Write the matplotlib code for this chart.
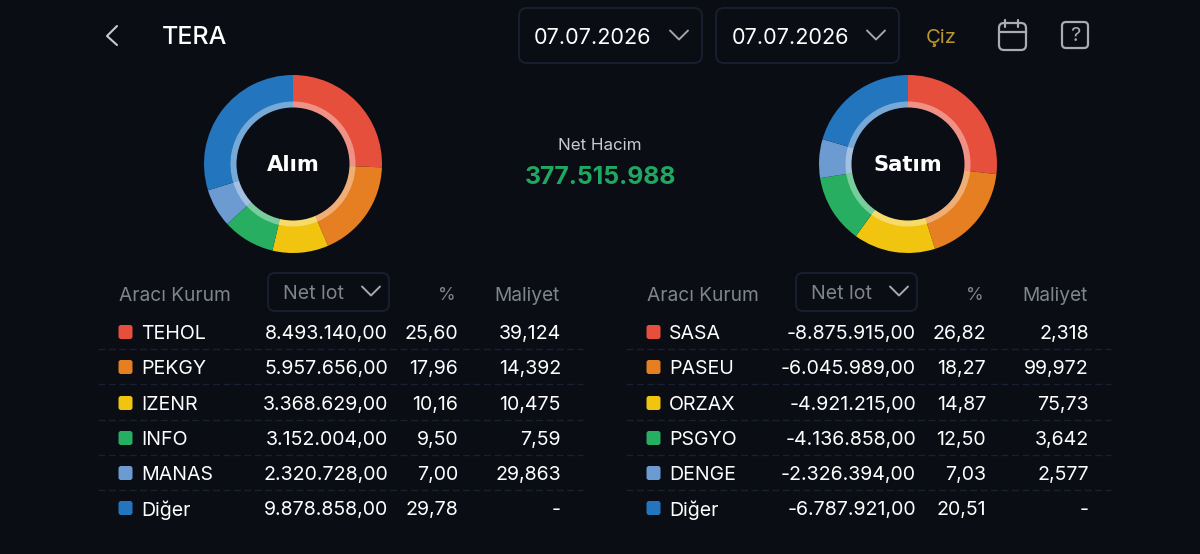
import matplotlib
matplotlib.use('Agg')
import matplotlib.pyplot as plt
from matplotlib.patches import FancyBboxPatch, Circle

W, H = 1200, 554
BG = '#0a0d14'
BORDER = '#1a2031'
MUTED = '#80848c'
plt.rcParams['font.family'] = ['Inter', 'DejaVu Sans']

# veriler
alim_kurum = ['TEHOL', 'PEKGY', 'IZENR', 'INFO', 'MANAS', 'Diğer']
alim_lot = [8493140.00, 5957656.00, 3368629.00, 3152004.00, 2320728.00, 9878858.00]
alim_pct = [25.60, 17.96, 10.16, 9.50, 7.00, 29.78]
alim_maliyet = ['39,124', '14,392', '10,475', '7,59', '29,863', '-']

satim_kurum = ['SASA', 'PASEU', 'ORZAX', 'PSGYO', 'DENGE', 'Diğer']
satim_lot = [-8875915.00, -6045989.00, -4921215.00, -4136858.00, -2326394.00, -6787921.00]
satim_pct = [26.82, 18.27, 14.87, 12.50, 7.03, 20.51]
satim_maliyet = ['2,318', '99,972', '75,73', '3,642', '2,577', '-']

renkler = ['#e74f3d', '#e67e22', '#f1c40f', '#27ae60', '#6c9bd1', '#2375bd']
net_hacim = 377515988
tarih = '07.07.2026'

fig = plt.figure(figsize=(W / 100, H / 100), dpi=100, facecolor=BG)
ax = fig.add_axes([0, 0, 1, 1])


def Y(y):
    # ekran koordinati (yukaridan asagi) -> eksen
    return H - y


def yaz(x, y, s, size=14.1, color='white', ha='left', weight='normal'):
    ax.text(x, Y(y + 1.8), s, fontsize=size, color=color, ha=ha, va='center', weight=weight)


def kutu(x0, y0, x1, y1, r=6, ec=BORDER, lw=1.3):
    ax.add_patch(FancyBboxPatch((x0 + r, Y(y1) + r), x1 - x0 - 2 * r, y1 - y0 - 2 * r,
                                boxstyle='round,pad=%d,rounding_size=%d' % (r, r),
                                fc='none', ec=ec, lw=lw, zorder=3))


def ok(cx, cy, w=9, h=8, color='#a3a6ac', lw=1.4):
    ax.plot([cx - w, cx, cx + w], [Y(cy - h / 2), Y(cy + h / 2), Y(cy - h / 2)],
            color=color, lw=lw, solid_capstyle='round', solid_joinstyle='round')


def tr_sayi(v, dec=2):
    s = f'{v:,.{dec}f}'
    return s.replace(',', '#').replace('.', ',').replace('#', '.')


def halka(cx, cy, degerler, baslik):
    ax.pie(degerler, colors=renkler, startangle=90, counterclock=False, center=(cx, Y(cy)),
           radius=89, wedgeprops=dict(width=35, lw=0))
    # ic taraftaki acik renkli ince halka
    ax.pie(degerler, colors=renkler, startangle=90, counterclock=False, center=(cx, Y(cy)),
           radius=62.5, wedgeprops=dict(width=8, lw=0))
    ax.pie(degerler, colors=['white'], startangle=90, counterclock=False, center=(cx, Y(cy)),
           radius=62.5, wedgeprops=dict(width=8, lw=0, alpha=0.38))
    ax.add_patch(Circle((cx, Y(cy)), 56.5, fc=BG, ec='none', zorder=2))
    ax.text(cx, Y(cy + 1), baslik, fontsize=15.2, color='white', ha='center', va='center',
            weight='bold', zorder=4, family='DejaVu Sans')


def tablo(dx, kurum, lot, pct, maliyet):
    yaz(119 + dx, 294, 'Aracı Kurum', size=13.8, color=MUTED)
    kutu(268 + dx, 273, 389 + dx, 311, r=7)
    yaz(283 + dx, 292, 'Net lot', size=14, color=MUTED)
    ok(371 + dx, 291, w=9, h=9, color='#a8abb1')
    yaz(456 + dx, 294, '%', size=13, color=MUTED, ha='right')
    yaz(560 + dx, 294, 'Maliyet', size=13.8, color=MUTED, ha='right')
    satirlar = [332, 367, 403, 438, 473, 508]
    for i, y in enumerate(satirlar):
        ax.add_patch(FancyBboxPatch((120 + dx, Y(y + 5.5)), 11, 11,
                                    boxstyle='round,pad=1.5,rounding_size=2.5',
                                    fc=renkler[i], ec='none'))
        yaz(141 + dx, y + 0.5, kurum[i])
        yaz(388 + dx, y + 0.5, tr_sayi(lot[i]), ha='right')
        yaz(458 + dx, y + 0.5, tr_sayi(pct[i]), ha='right')
        yaz(561 + dx, y + 0.5, maliyet[i], ha='right')
        if i < 5:
            sy = y + 16.5
            ax.plot([98 + dx, 583 + dx], [Y(sy), Y(sy)], color=BORDER, lw=1,
                    dashes=(5, 2.5))


# ust bar
ax.plot([117, 107, 117], [Y(26), Y(36), Y(45)], color='#c8cacd', lw=1.5,
        solid_capstyle='round', solid_joinstyle='round')
yaz(162, 36, 'TERA', size=18, weight='medium')
kutu(519, 8, 702, 63, r=8)
kutu(716, 8, 899, 63, r=8)
yaz(534, 36, tarih, size=15.6)
yaz(732, 36, tarih, size=15.6)
ok(679, 35, w=9, h=9)
ok(876, 35, w=9, h=9)
yaz(926, 36, 'Çiz', size=14.5, color='#b8972f')

# takvim ve yardim ikonlari
IKON = '#a9acb3'
kutu(999, 23, 1026, 50, r=5, ec=IKON, lw=1.6)
ax.plot([999.5, 1025.5], [Y(32), Y(32)], color=IKON, lw=1.6)
for ix in (1005, 1018):
    ax.plot([ix, ix], [Y(20), Y(27)], color=IKON, lw=1.6, solid_capstyle='round')
kutu(1062, 22, 1088, 48, r=4, ec=IKON, lw=1.6)
ax.text(1075, Y(36), '?', fontsize=14.5, color=IKON, ha='center', va='center')

halka(293, 164, alim_pct, 'Alım')
halka(908, 164, satim_pct, 'Satım')

ax.text(600, Y(146), 'Net Hacim', fontsize=12.2, color='#c9cbce', ha='center', va='center')
ax.text(600, Y(178), tr_sayi(net_hacim, 0), fontsize=17.8, color='#1fa862', ha='center',
        va='center', weight='bold')

tablo(0, alim_kurum, alim_lot, alim_pct, alim_maliyet)
tablo(528, satim_kurum, satim_lot, satim_pct, satim_maliyet)

ax.set_xlim(0, W)
ax.set_ylim(0, H)
ax.set_aspect('auto')
ax.axis('off')
fig.savefig('out.png', dpi=100, facecolor=BG)
